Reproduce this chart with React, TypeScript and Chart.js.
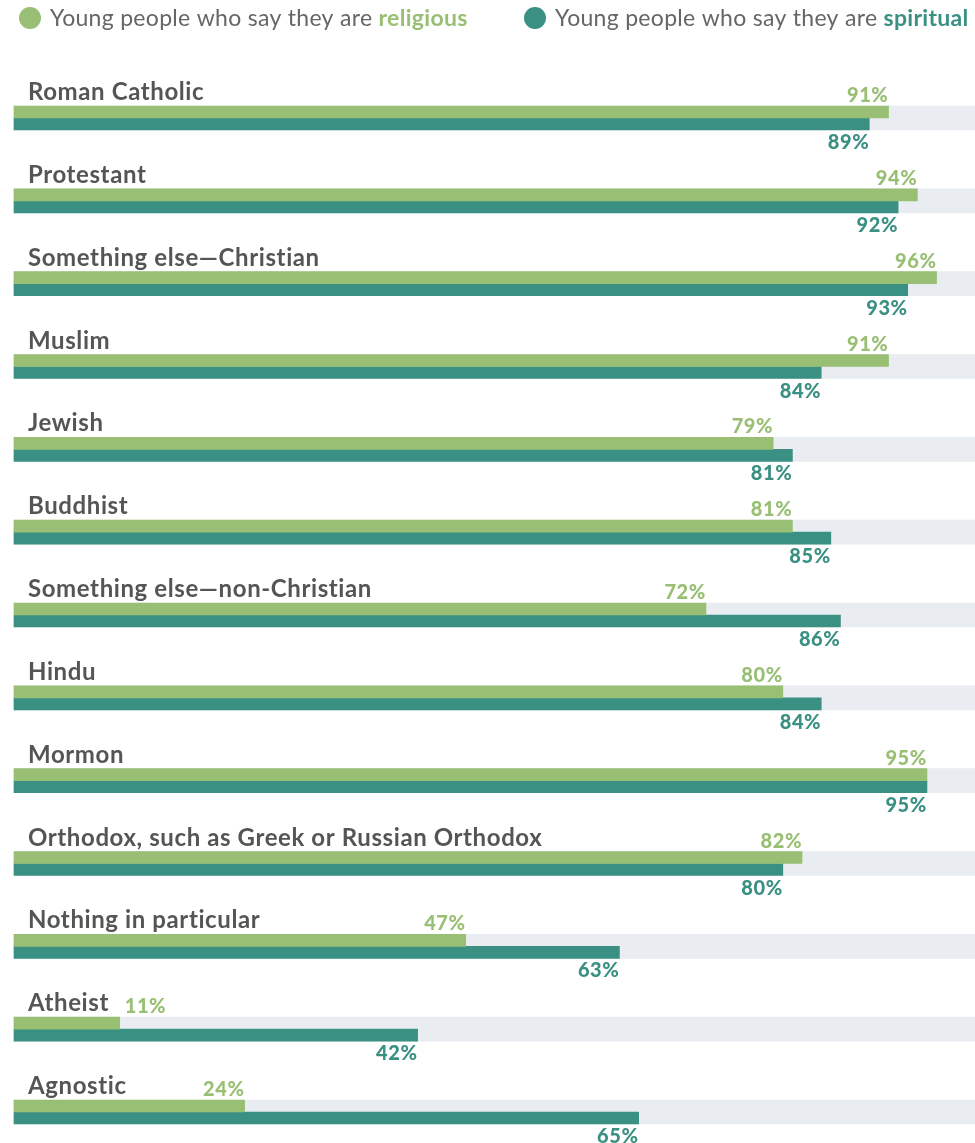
import React, { useEffect, useRef } from "react";
import { Chart, registerables } from "chart.js";

Chart.register(...registerables);

const categories = [
  "Roman Catholic",
  "Protestant",
  "Something else\u2014Christian",
  "Muslim",
  "Jewish",
  "Buddhist",
  "Something else\u2014non-Christian",
  "Hindu",
  "Mormon",
  "Orthodox, such as Greek or Russian Orthodox",
  "Nothing in particular",
  "Atheist",
  "Agnostic",
];
const religious = [91, 94, 96, 91, 79, 81, 72, 80, 95, 82, 47, 11, 24];
const spiritual = [89, 92, 93, 84, 81, 85, 86, 84, 95, 80, 63, 42, 65];
const track = categories.map(() => 100);

const GREEN = "#98bf73";
const TEAL = "#3a9082";
const GREY = "#e9ecf1";
const LABEL = "#555555";
const FONT = "Lato, 'Open Sans', sans-serif";

const overlayPlugin = {
  id: "overlay",
  afterDatasetsDraw(chart: any) {
    const ctx = chart.ctx as any;
    const yScale = chart.scales.y;
    const m0 = chart.getDatasetMeta(0);
    const m1 = chart.getDatasetMeta(1);
    ctx.save();
    ctx.textBaseline = "alphabetic";
    categories.forEach((c, i) => {
      const yc = yScale.getPixelForValue(i);
      ctx.font = `700 24px ${FONT}`;
      ctx.letterSpacing = "0.6px";
      ctx.fillStyle = LABEL;
      ctx.textAlign = "left";
      ctx.fillText(c, 28, yc - 18);
      const labelEnd = 28 + ctx.measureText(c).width;

      ctx.font = `900 20px ${FONT}`;
      ctx.letterSpacing = "0.6px";
      const b0 = m0.data[i];
      const t0 = `${religious[i]}%`;
      const w0 = ctx.measureText(t0).width;
      ctx.fillStyle = GREEN;
      if (b0.x - w0 < labelEnd + 8) {
        ctx.textAlign = "left";
        ctx.fillText(t0, b0.x + 5, yc - 16);
      } else {
        ctx.textAlign = "right";
        ctx.fillText(t0, b0.x, yc - 16);
      }
      const b1 = m1.data[i];
      ctx.fillStyle = TEAL;
      ctx.textAlign = "right";
      ctx.fillText(`${spiritual[i]}%`, b1.x, yc + 31);
    });

    // legend
    const drawLegend = (cx: number, color: string, plain: string, bold: string) => {
      ctx.beginPath();
      ctx.arc(cx, 18, 11, 0, Math.PI * 2);
      ctx.fillStyle = color;
      ctx.fill();
      ctx.textAlign = "left";
      ctx.letterSpacing = "0.3px";
      ctx.font = `400 23px ${FONT}`;
      ctx.fillStyle = "#666666";
      const x = cx + 20;
      ctx.fillText(plain, x, 26);
      const w = ctx.measureText(plain).width;
      ctx.font = `700 23px ${FONT}`;
      ctx.fillStyle = color;
      ctx.fillText(bold, x + w, 26);
    };
    drawLegend(30, GREEN, "Young people who say they are ", "religious");
    drawLegend(535, TEAL, "Young people who say they are ", "spiritual");
    ctx.restore();
  },
};

export default function App() {
  const ref = useRef<HTMLCanvasElement | null>(null);
  useEffect(() => {
    if (!ref.current) return;
    const chart = new Chart(ref.current, {
      type: "bar",
      data: {
        labels: categories,
        datasets: [
          {
            label: "religious",
            data: religious,
            backgroundColor: GREEN,
            barThickness: 12,
            clip: false,
            order: 0,
          },
          {
            label: "spiritual",
            data: spiritual,
            backgroundColor: TEAL,
            barThickness: 12,
            clip: false,
            order: 0,
          },
          {
            label: "track",
            data: track,
            backgroundColor: GREY,
            grouped: false,
            barThickness: 24,
            maxBarThickness: 24,
            clip: false,
            order: 1,
          } as any,
        ],
      },
      options: {
        indexAxis: "y",
        responsive: false,
        animation: false,
        devicePixelRatio: 1,
        layout: { padding: { top: 118, bottom: 31, left: 14, right: 0 } },
        scales: {
          x: { type: "linear", min: 0, max: 100, display: false },
          y: { type: "category", display: false, offset: false },
        },
        plugins: { legend: { display: false }, tooltip: { enabled: false } },
      },
      plugins: [overlayPlugin],
    });
    return () => chart.destroy();
  }, []);
  return (
    <div style={{ position: "absolute", left: 0, top: 0, width: 975, height: 1143, background: "#fff" }}>
      <canvas ref={ref} width={975} height={1143} style={{ display: "block" }} />
    </div>
  );
}
